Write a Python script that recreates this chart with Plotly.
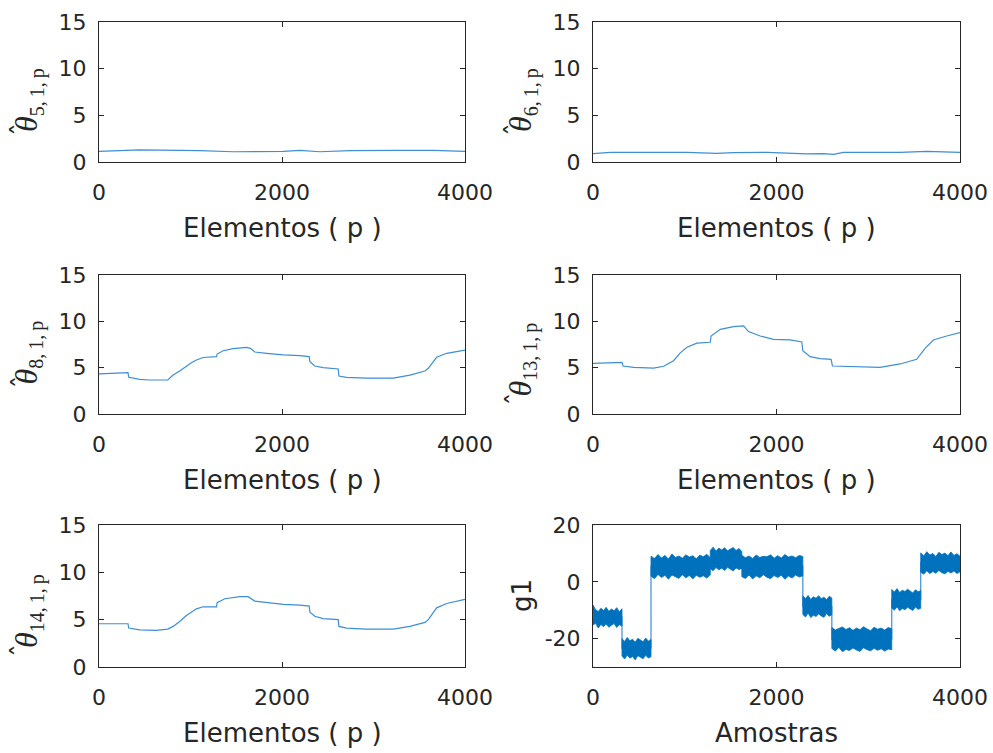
import plotly.graph_objects as go

# ---------------- data ----------------
theta5_x = [0, 445, 1101, 1466, 2013, 2195, 2414, 2742, 3289, 3654, 4000]
theta5_y = [1.14, 1.29, 1.21, 1.10, 1.14, 1.25, 1.10, 1.21, 1.25, 1.25, 1.14]

theta6_x = [0, 189, 515, 1024, 1350, 1532, 1895, 2185, 2330, 2512, 2621, 2730, 2984, 3347, 3637, 4000]
theta6_y = [0.89, 1.04, 1.04, 1.04, 0.93, 1.00, 1.04, 0.96, 0.86, 0.89, 0.82, 1.04, 1.04, 1.04, 1.14, 1.04]

theta8_x = [0, 317, 325, 445, 554, 751, 810, 882, 1010, 1065, 1138, 1284, 1291, 1356, 1466, 1612, 1655,
            1703, 1830, 2013, 2195, 2297, 2305, 2359, 2450, 2614, 2622, 2705, 2924, 3216, 3398, 3562,
            3599, 3690, 3800, 3909, 4000]
theta8_y = [4.32, 4.46, 3.96, 3.74, 3.67, 3.67, 4.20, 4.64, 5.54, 5.83, 6.10, 6.19, 6.47, 6.83, 7.05, 7.19,
            7.08, 6.69, 6.55, 6.37, 6.29, 6.19, 5.65, 5.18, 5.00, 4.86, 4.10, 3.96, 3.88, 3.88, 4.20, 4.64,
            4.93, 6.12, 6.55, 6.73, 6.90]

theta13_x = [0, 316, 327, 443, 661, 770, 878, 951, 1024, 1132, 1278, 1287, 1387, 1532, 1641, 1695, 1822,
             1967, 2149, 2276, 2287, 2367, 2476, 2595, 2610, 2838, 3129, 3347, 3510, 3528, 3619, 3710,
             3855, 4000]
theta13_y = [5.47, 5.58, 5.18, 5.04, 4.96, 5.15, 5.75, 6.60, 7.20, 7.65, 7.74, 8.42, 9.14, 9.42, 9.50, 8.90,
             8.42, 8.06, 7.99, 7.77, 6.83, 6.19, 5.97, 5.90, 5.18, 5.10, 5.04, 5.40, 5.83, 5.90, 7.09, 7.99,
             8.42, 8.78]

theta14_x = [0, 317, 325, 445, 627, 751, 810, 882, 955, 1065, 1138, 1284, 1291, 1375, 1539, 1630, 1703,
             1830, 2013, 2195, 2297, 2305, 2359, 2450, 2614, 2622, 2705, 2924, 3216, 3398, 3562, 3599,
             3690, 3800, 3909, 4000]
theta14_y = [4.57, 4.57, 4.11, 3.93, 3.86, 4.00, 4.29, 4.80, 5.43, 6.14, 6.36, 6.36, 6.79, 7.21, 7.43, 7.43,
             6.96, 6.79, 6.61, 6.54, 6.43, 5.79, 5.36, 5.11, 5.00, 4.29, 4.11, 4.00, 4.00, 4.29, 4.71, 5.00,
             6.25, 6.71, 6.96, 7.14]

# g1: piecewise levels with noise envelope (upper / lower edges read per segment)
g1_start = [0, 316, 632, 1278, 1622, 2287, 2603, 3256, 3572]
g1_end = [316, 632, 1278, 1622, 2287, 2603, 3256, 3572, 4000]
g1_level = [-12.4, -23.4, 5.4, 8.0, 5.4, -8.7, -20.1, -6.3, 6.7]
g1_upper = [
    [-8.2, -9.8, -10.5, -9.3, -10.1, -9.0, -10.4, -9.6, -10.2, -9.1, -10.6, -9.5],
    [-20.0, -21.0, -19.6, -20.8, -20.2, -21.3, -19.9, -20.6, -21.1, -19.8, -20.9, -20.3],
    [9.0, 8.2, 9.6, 8.4, 9.3, 8.0, 9.8, 8.6, 9.1, 8.3, 9.5, 8.7, 9.2, 8.1, 9.4, 8.8, 9.7, 8.5],
    [11.0, 12.2, 10.8, 11.9, 11.2, 12.0, 10.9, 11.5, 12.1, 11.0, 11.7, 10.7],
    [9.3, 8.5, 9.1, 8.2, 9.4, 8.6, 9.0, 8.8, 9.5, 8.3, 9.2, 8.4, 9.6, 8.7, 9.1, 8.5, 9.3, 8.9],
    [-5.0, -5.9, -4.8, -6.2, -5.3, -5.8, -4.9, -6.0, -5.4, -6.3, -5.1, -5.7],
    [-16.1, -17.0, -16.4, -15.9, -16.8, -16.2, -17.1, -16.3, -16.9, -15.8, -16.6, -17.2, -16.0, -16.7, -16.3, -17.0, -16.1, -16.5],
    [-2.7, -3.6, -2.4, -3.8, -3.0, -3.4, -2.6, -3.3, -3.9, -2.8, -3.5, -3.1],
    [10.2, 9.1, 10.6, 9.4, 10.0, 8.9, 10.4, 9.6, 10.1, 9.2, 10.5, 9.3, 9.9, 9.0],
]
g1_lower = [
    [-15.2, -14.6, -16.3, -15.0, -15.8, -14.9, -16.0, -15.3, -14.7, -16.1, -15.1, -15.6],
    [-26.1, -27.2, -25.8, -26.9, -26.3, -27.5, -26.0, -26.6, -27.1, -25.9, -26.8, -26.4],
    [2.0, 1.1, 2.6, 1.5, 2.3, 0.9, 2.4, 1.8, 1.2, 2.5, 1.4, 2.2, 1.0, 2.3, 1.6, 2.1, 1.3, 2.4],
    [4.6, 3.9, 5.0, 4.2, 4.8, 4.0, 5.1, 4.4, 3.8, 4.9, 4.3, 4.7],
    [1.8, 1.2, 2.4, 1.0, 2.1, 1.4, 2.5, 1.6, 1.1, 2.2, 1.5, 2.3, 0.9, 2.0, 1.3, 2.4, 1.7, 2.1],
    [-11.5, -12.4, -11.0, -12.6, -11.8, -12.2, -11.3, -12.0, -12.5, -11.2, -12.1, -11.6],
    [-23.5, -24.4, -23.1, -24.6, -23.8, -24.2, -23.3, -24.0, -24.5, -23.2, -23.9, -24.3, -23.4, -24.1, -23.6, -24.4, -23.7, -23.9],
    [-9.2, -10.0, -8.8, -10.2, -9.4, -9.8, -9.0, -9.6, -10.1, -8.9, -9.7, -9.3],
    [3.4, 2.7, 3.9, 2.9, 3.6, 3.0, 4.0, 3.2, 2.8, 3.7, 3.1, 3.8, 2.9, 3.5],
]

x_ticks = [0, 2000, 4000]
x_ticktext = ["0", "2000", "4000"]
theta_ticks = [0, 5, 10, 15]
theta_ticktext = ["0", "5", "10", "15"]
g1_ticks = [-20, 0, 20]
g1_ticktext = ["-20", "0", "20"]

# ---------------- styling / layout ----------------
W, H = 993, 753
AX = "#262626"
LINE = "#0072BD"
THIN = "#3d8fd5"
TICK_FONT = dict(family="DejaVu Sans", size=22, color=AX)
TITLE_FONT = dict(family="DejaVu Sans", size=26, color=AX)
SERIF = dict(family="Liberation Serif", size=32, color=AX)
HAT_FONT = dict(family="DejaVu Sans", size=26, color=AX)

cols_px = [(99, 465), (593, 960)]
rows_px = [(22, 162), (275, 414), (525, 667)]

panels = [
    (0, 0, theta5_x, theta5_y, "5,\u20091,\u2009p", "Elementos ( p )", -8, -38),
    (0, 1, theta6_x, theta6_y, "6,\u20091,\u2009p", "Elementos ( p )", -8, -38),
    (1, 0, theta8_x, theta8_y, "8,\u20091,\u2009p", "Elementos ( p )", -8, -38),
    (1, 1, theta13_x, theta13_y, "13,\u20091,\u2009p", "Elementos ( p )", -15, -55),
    (2, 0, theta14_x, theta14_y, "14,\u20091,\u2009p", "Elementos ( p )", -15, -55),
]

fig = go.Figure()
layout = dict(width=W, height=H, margin=dict(l=0, r=0, t=0, b=0, pad=0, autoexpand=False),
              paper_bgcolor="white", plot_bgcolor="white", showlegend=False,
              annotations=[])


def axis_common(dom, anchor):
    return dict(domain=dom, anchor=anchor, showgrid=False, zeroline=False,
                showline=True, linecolor=AX, linewidth=1, mirror="ticks",
                ticks="inside", ticklen=5, tickcolor=AX, tickwidth=1,
                tickfont=TICK_FONT, automargin=False)


def add_axes(i, r, c, ylim, yticks, yticktext, ytitle, xtitle, ytitle_font, title_shift, hat):
    xd = [cols_px[c][0] / W, cols_px[c][1] / W]
    yd = [1 - rows_px[r][1] / H, 1 - rows_px[r][0] / H]
    xn = "xaxis" if i == 1 else f"xaxis{i}"
    yn = "yaxis" if i == 1 else f"yaxis{i}"
    xs = "x" if i == 1 else f"x{i}"
    ys = "y" if i == 1 else f"y{i}"
    xa = axis_common(xd, ys)
    xa.update(range=[0, 4000], tickvals=x_ticks, ticktext=x_ticktext, ticklabelstandoff=11)
    ya = axis_common(yd, xs)
    ya.update(range=ylim, tickvals=yticks, ticktext=yticktext, ticklabelstandoff=7)
    layout[xn] = xa
    layout[yn] = ya
    layout["annotations"].append(dict(
        text=xtitle, xref=f"{xs} domain", yref=f"{ys} domain", x=0.5, y=0,
        xanchor="center", yanchor="middle", yshift=-66, showarrow=False,
        font=TITLE_FONT))
    layout["annotations"].append(dict(
        text=ytitle, xref=f"{xs} domain", yref=f"{ys} domain", x=0, y=0.5,
        xanchor="center", yanchor="middle", xshift=-71, yshift=title_shift,
        textangle=-90, showarrow=False, font=ytitle_font))
    if hat is not None:
        layout["annotations"].append(dict(
            text="ˆ", xref=f"{xs} domain", yref=f"{ys} domain", x=0, y=0.5,
            xanchor="center", yanchor="middle", xshift=-77, yshift=hat,
            textangle=-90, showarrow=False, font=HAT_FONT))
    return xs, ys


i = 0
for r, c, xv, yv, sub, xt, tshift, hshift in panels:
    i += 1
    title = f'<i>θ</i><sub><span style="font-size:20px">{sub}</span></sub>'
    xs, ys = add_axes(i, r, c, [0, 15], theta_ticks, theta_ticktext,
                      title, xt, SERIF, tshift, hshift)
    fig.add_trace(go.Scatter(x=xv, y=yv, mode="lines", xaxis=xs, yaxis=ys,
                             line=dict(color=THIN, width=1.2)))

# g1 panel
i += 1
xs, ys = add_axes(i, 2, 1, [-30, 20], g1_ticks, g1_ticktext, "g1", "Amostras",
                  TITLE_FONT, 0, None)
sx, sy = [], []
for s, e, lv in zip(g1_start, g1_end, g1_level):
    sx += [s, e]
    sy += [lv, lv]
fig.add_trace(go.Scatter(x=sx, y=sy, mode="lines", xaxis=xs, yaxis=ys,
                         line=dict(color=THIN, width=1.2)))
bx, by = [], []
for s, e, up, lo in zip(g1_start, g1_end, g1_upper, g1_lower):
    n = len(up)
    px = [s + (e - s) * k / (n - 1) for k in range(n)]
    bx += px + px[::-1] + [px[0], None]
    by += up + lo[::-1] + [up[0], None]
fig.add_trace(go.Scatter(x=bx, y=by, mode="lines", fill="toself", fillcolor=LINE,
                         line=dict(color=LINE, width=0.8), xaxis=xs, yaxis=ys))

fig.update_layout(**layout)
fig.write_html("out.html", config={"displayModeBar": False},
               post_script="document.body.style.margin='0';document.body.style.overflow='hidden';")
